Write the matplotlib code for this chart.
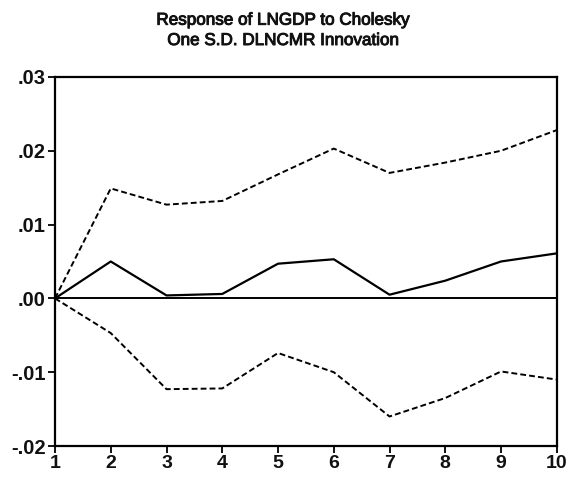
import matplotlib
matplotlib.use("Agg")
import matplotlib.pyplot as plt
import matplotlib.patheffects as pe

periods = [1, 2, 3, 4, 5, 6, 7, 8, 9, 10]
response = [0.0, 0.0050, 0.0004, 0.0006, 0.0047, 0.0053, 0.0005, 0.0024, 0.0050, 0.0061]
upper_band = [0.0, 0.0149, 0.0127, 0.0132, 0.0168, 0.0203, 0.0170, 0.0184, 0.0200, 0.0228]
lower_band = [0.0, -0.0047, -0.0123, -0.0122, -0.0074, -0.0100, -0.0160, -0.0135, -0.0099, -0.0110]

y_ticks = [-0.02, -0.01, 0.0, 0.01, 0.02, 0.03]
y_tick_labels = ["-.02", "-.01", ".00", ".01", ".02", ".03"]
title_lines = ["Response of LNGDP to Cholesky", "One S.D. DLNCMR Innovation"]

plt.rcParams["font.family"] = ["Liberation Sans", "DejaVu Sans"]

fig = plt.figure(figsize=(5.67, 4.84), dpi=100)
ax = fig.add_axes([0.097, 0.0785, 0.885, 0.7625])

ax.plot(periods, response, color="black", lw=1.6)
ax.plot(periods, upper_band, color="black", lw=1.4, linestyle=(0, (3, 1.6)))
ax.plot(periods, lower_band, color="black", lw=1.4, linestyle=(0, (3, 1.6)))
ax.axhline(0, color="black", lw=1.4)

ax.set_xlim(1, 10)
ax.set_ylim(-0.02, 0.03)
ax.set_xticks(periods)
ax.set_xticklabels([str(p) for p in periods], fontsize=14, fontweight="bold")
ax.set_yticks(y_ticks)
ax.set_yticklabels(y_tick_labels, fontsize=14.5, fontweight="bold")
ax.tick_params(axis="both", direction="out", length=5, width=1.4, pad=1.5, colors="#111111")

for s in ax.spines.values():
    s.set_linewidth(1.6)
    s.set_color("black")

# slightly heavier title strokes
for line, ybase in zip(title_lines, [0.949, 0.907]):
    fig.text(0.5, ybase, line, ha="center", va="baseline", fontsize=12.3,
             color="#111111",
             path_effects=[pe.withStroke(linewidth=0.7, foreground="#111111")])

fig.savefig("out.png", dpi=100)
